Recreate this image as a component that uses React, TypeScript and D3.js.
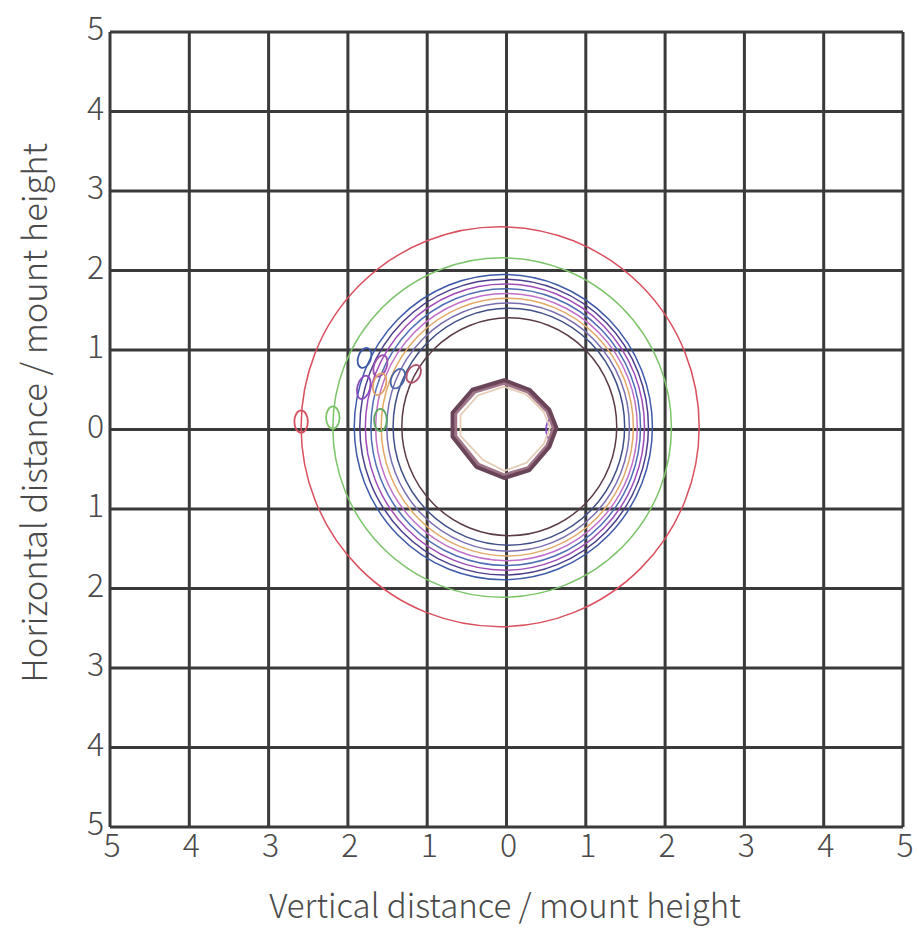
import React from "react";
import * as d3 from "d3";

const W = 919;
const H = 930;

const tickValues = [-5, -4, -3, -2, -1, 0, 1, 2, 3, 4, 5];
const tickLabels = ["5", "4", "3", "2", "1", "0", "1", "2", "3", "4", "5"];

const xTitle = "Vertical distance / mount height";
const yTitle = "Horizontal distance / mount height";

// Ring contours: centre (cx, cy), radii (rx, ry), colour
const ringCx = [-0.08, -0.055, -0.04, -0.03, -0.02, -0.01, 0.0, 0.01, 0.02, 0.03, 0.035];
const ringCy = [0.035, 0.025, 0.03, 0.03, 0.03, 0.03, 0.03, 0.03, 0.03, 0.035, 0.035];
const ringRx = [2.51, 2.135, 1.88, 1.82, 1.76, 1.70, 1.65, 1.59, 1.53, 1.46, 1.355];
const ringRy = [2.515, 2.135, 1.92, 1.86, 1.80, 1.74, 1.68, 1.62, 1.56, 1.49, 1.37];
const ringColors = [
  "#d9505e", "#7cc46a", "#3d5aa8", "#4b3f8c", "#a04cb8", "#4f6cb4",
  "#c070c8", "#e2a86a", "#7a6fb0", "#3e4f86", "#5a3a48",
];

// Small closed loops on the left
const loopX = [-2.59, -2.19, -1.59, -1.79, -1.80, -1.59, -1.60, -1.37, -1.17, 0.55];
const loopY = [0.10, 0.15, 0.12, 0.90, 0.53, 0.80, 0.57, 0.64, 0.70, 0.00];
const loopRx = [0.085, 0.085, 0.08, 0.08, 0.08, 0.08, 0.08, 0.08, 0.08, 0.05];
const loopRy = [0.14, 0.14, 0.14, 0.13, 0.15, 0.14, 0.14, 0.13, 0.12, 0.12];
const loopRot = [0, 0, 0, 20, 15, 20, 15, 25, 30, 0];
const loopColors = [
  "#d9505e", "#7cc46a", "#5aa860", "#3d5aa8", "#8a4cc0",
  "#a050b0", "#e2a06a", "#4a66a8", "#b0506a", "#8a4cd0",
];

// Central heptagon-like contour
const heptOuterX = [-0.03, 0.29, 0.54, 0.63, 0.54, 0.29, -0.03, -0.38, -0.68, -0.68, -0.43];
const heptOuterY = [0.62, 0.50, 0.25, 0.02, -0.22, -0.51, -0.61, -0.47, -0.09, 0.21, 0.50];
const heptMidX = [-0.03, 0.27, 0.51, 0.59, 0.51, 0.27, -0.03, -0.35, -0.64, -0.64, -0.40];
const heptMidY = [0.58, 0.47, 0.23, 0.02, -0.20, -0.48, -0.57, -0.44, -0.08, 0.20, 0.47];
const heptInnerX = [-0.03, 0.25, 0.47, 0.55, 0.47, 0.25, -0.03, -0.30, -0.58, -0.58, -0.36];
const heptInnerY = [0.54, 0.44, 0.22, 0.02, -0.18, -0.42, -0.52, -0.38, -0.08, 0.18, 0.43];

export default function App() {
  const x = d3.scaleLinear().domain([-5, 5]).range([110, 903]);
  const y = d3.scaleLinear().domain([-5, 5]).range([827, 32]);
  const sx = (v: number) => x(v) - x(0);
  const sy = (v: number) => y(0) - y(v);

  const line = d3
    .line<[number, number]>()
    .x((d) => x(d[0]))
    .y((d) => y(d[1]))
    .curve(d3.curveLinearClosed);

  const pts = (xs: number[], ys: number[]) => xs.map((v, i) => [v, ys[i]] as [number, number]);

  const font = "'Noto Sans CJK JP', 'Noto Sans', sans-serif";
  const gridColor = "#3a3a3a";
  const textColor = "#4a4a4a";

  return (
    <svg
      width={W}
      height={H}
      style={{ position: "absolute", left: 0, top: 0, background: "#fff" }}
    >
      <rect x={0} y={0} width={W} height={H} fill="#fff" />
      {/* grid */}
      {tickValues.map((t) => (
        <line key={"v" + t} x1={x(t)} x2={x(t)} y1={y(-5)} y2={y(5)} stroke={gridColor} strokeWidth={3} />
      ))}
      {tickValues.map((t) => (
        <line key={"h" + t} y1={y(t)} y2={y(t)} x1={x(-5)} x2={x(5)} stroke={gridColor} strokeWidth={3} />
      ))}

      {/* rings */}
      {ringRx.map((r, i) => (
        <ellipse
          key={"r" + i}
          cx={x(ringCx[i])}
          cy={y(ringCy[i])}
          rx={sx(r)}
          ry={sy(ringRy[i])}
          fill="none"
          stroke={ringColors[i]}
          strokeWidth={1.5}
        />
      ))}

      {/* loops */}
      {loopX.map((lx, i) => (
        <ellipse
          key={"l" + i}
          cx={x(lx)}
          cy={y(loopY[i])}
          rx={sx(loopRx[i])}
          ry={sy(loopRy[i])}
          transform={`rotate(${loopRot[i]} ${x(lx)} ${y(loopY[i])})`}
          fill="none"
          stroke={loopColors[i]}
          strokeWidth={1.8}
        />
      ))}

      {/* central contour */}
      <g fill="none" strokeLinejoin="round">
        <path d={line(pts(heptInnerX, heptInnerY)) || ""} stroke="#e6cdb8" strokeWidth={1.8} />
        <path d={line(pts(heptMidX, heptMidY)) || ""} stroke="#a07488" strokeWidth={3} />
        <path d={line(pts(heptOuterX, heptOuterY)) || ""} stroke="#6a4458" strokeWidth={4} />
      </g>

      {/* tick labels */}
      {tickValues.map((t, i) => (
        <text
          key={"xt" + t}
          x={x(t) + 2}
          y={857}
          textAnchor="middle"
          fontFamily={font}
          fontSize={32}
          fontWeight={300}
          fill={textColor}
        >
          {tickLabels[i]}
        </text>
      ))}
      {tickValues.map((t, i) => (
        <text
          key={"yt" + t}
          x={104}
          y={y(t) + 8}
          textAnchor="end"
          fontFamily={font}
          fontSize={32}
          fontWeight={300}
          fill={textColor}
        >
          {tickLabels[i]}
        </text>
      ))}

      <text x={505} y={918} textAnchor="middle" fontFamily={font} fontSize={33} fontWeight={300} fill={textColor}>
        {xTitle}
      </text>
      <text
        transform={`translate(47, ${413}) rotate(-90)`}
        textAnchor="middle"
        fontFamily={font}
        fontSize={34.5}
        fontWeight={300}
        fill={textColor}
      >
        {yTitle}
      </text>
    </svg>
  );
}
